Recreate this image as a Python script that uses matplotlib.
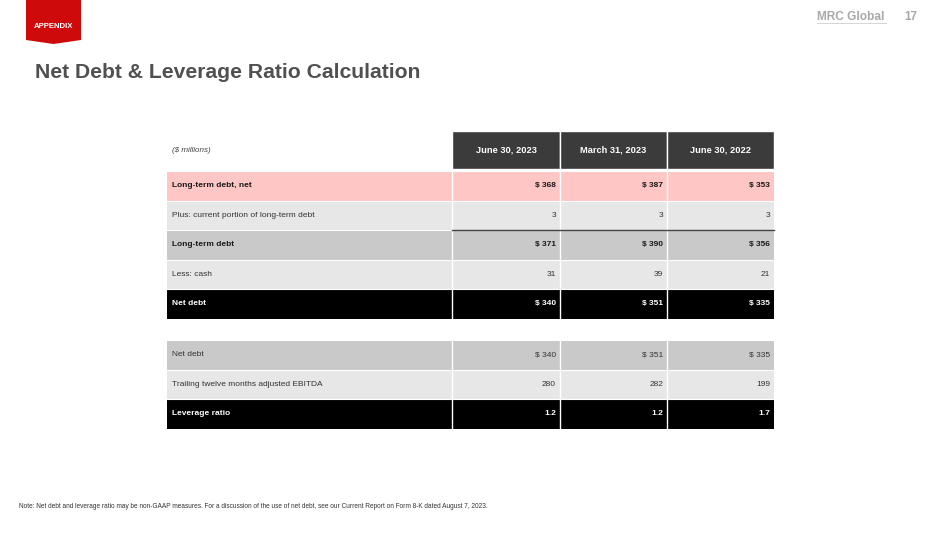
import matplotlib
matplotlib.use("Agg")
import matplotlib.pyplot as plt
from matplotlib.patches import Rectangle, Polygon
from matplotlib import font_manager

# ---------------- data ----------------
title = "Net Debt & Leverage Ratio Calculation"
tag = "APPENDIX"
unit_label = "($ millions)"
periods = ["June 30, 2023", "March 31, 2023", "June 30, 2022"]

block1_labels = ["Long-term debt, net", "Plus: current portion of long-term debt",
                 "Long-term debt", "Less: cash", "Net debt"]
block1_values = [["$ 368", "$ 387", "$ 353"],
                 ["3", "3", "3"],
                 ["$ 371", "$ 390", "$ 356"],
                 ["31", "39", "21"],
                 ["$ 340", "$ 351", "$ 335"]]
block1_styles = ["pink", "light", "mid", "light", "black"]

block2_labels = ["Net debt", "Trailing twelve months adjusted EBITDA", "Leverage ratio"]
block2_values = [["$ 340", "$ 351", "$ 335"],
                 ["280", "282", "199"],
                 ["1.2", "1.2", "1.7"]]
block2_styles = ["midplain", "light", "black"]

footnote = ("Note: Net debt and leverage ratio may be non-GAAP measures. For a discussion of the use "
            "of net debt, see our Current Report on Form 8-K dated August 7, 2023.")

# ---------------- fonts ----------------
def has_font(name):
    try:
        font_manager.findfont(name, fallback_to_default=False)
        return True
    except Exception:
        return False

NARROW = "Liberation Sans Narrow" if has_font("Liberation Sans Narrow") else "Liberation Sans"
SANS = "Liberation Sans"

# ---------------- styles ----------------
fills = {"pink": "#ffc6c6", "light": "#e7e7e7", "mid": "#c9c9c9",
         "midplain": "#c9c9c9", "black": "#000000"}
txtcol = {"pink": "#1a1a1a", "light": "#333333", "mid": "#1a1a1a",
          "midplain": "#333333", "black": "#ffffff"}
bold = {"pink": True, "light": False, "mid": True, "midplain": False, "black": True}

W, H = 950, 534
fig = plt.figure(figsize=(W / 100, H / 100), dpi=100)
ax = fig.add_axes([0, 0, 1, 1])
ax.set_xlim(0, W)
ax.set_ylim(H, 0)
ax.axis("off")

# layout
col_edges = [167, 452, 560, 667, 774]
hdr_top, hdr_bot = 131, 169
row_h = 29.5
b1_top = 171
b2_top = 340
FS = 6.0

# appendix tag
ax.add_patch(Polygon([(26, 0), (81, 0), (81, 40), (53.5, 44), (26, 40)],
                     closed=True, facecolor="#cf0a0a", edgecolor="none"))
ax.text(53.5, 27, tag, color="white", fontsize=5.6, fontweight="bold",
        family=SANS, ha="center", va="center")

# title
ax.text(35, 73, title, color="#505050", fontsize=15.2, fontweight="bold",
        family=SANS, ha="left", va="center")

# logo & page number
ax.text(851, 17, "MRC Global", color="#a8a8a8", fontsize=8.6, fontweight="bold",
        family=SANS, ha="center", va="center")
ax.plot([817, 886], [23, 23], color="#d5d5d5", lw=0.7)
ax.text(911, 17, "17", color="#a8a8a8", fontsize=8.4, fontweight="bold",
        family=SANS, ha="center", va="center")

# header
ax.text(col_edges[0] + 5, (hdr_top + hdr_bot) / 2, unit_label, color="#444444",
        fontsize=5.8, style="italic", family=NARROW, ha="left", va="center")
for j, p in enumerate(periods):
    x0, x1 = col_edges[j + 1], col_edges[j + 2]
    ax.add_patch(Rectangle((x0, hdr_top), x1 - x0, hdr_bot - hdr_top,
                           facecolor="#3b3b3b", edgecolor="white", lw=1.0))
    ax.text((x0 + x1) / 2, (hdr_top + hdr_bot) / 2, p, color="white", fontsize=6.7,
            fontweight="bold", family=NARROW, ha="center", va="center")


def draw_block(top, labels, values, styles):
    for i, (lab, vals, st) in enumerate(zip(labels, values, styles)):
        y0 = top + i * row_h
        ax.add_patch(Rectangle((col_edges[0], y0), col_edges[-1] - col_edges[0], row_h,
                               facecolor=fills[st], edgecolor="none"))
        ax.plot([col_edges[0], col_edges[-1]], [y0, y0], color="white", lw=0.8)
        yc = y0 + row_h / 2
        ax.text(col_edges[0] + 5, yc, lab, color=txtcol[st], fontsize=FS,
                fontweight="bold" if bold[st] else "normal", family=NARROW,
                ha="left", va="center")
        for j, v in enumerate(vals):
            ax.text(col_edges[j + 2] - 4, yc, v, color=txtcol[st], fontsize=FS,
                    fontweight="bold" if bold[st] else "normal", family=NARROW,
                    ha="right", va="center")
    bottom = top + len(labels) * row_h
    for x in col_edges[1:-1]:
        ax.plot([x, x], [top, bottom], color="white", lw=1.0)
    return bottom


draw_block(b1_top, block1_labels, block1_values, block1_styles)
# subtotal rule above "Long-term debt" values
y_rule = b1_top + 2 * row_h
ax.plot([col_edges[1], col_edges[-1]], [y_rule, y_rule], color="#444444", lw=1.0)

draw_block(b2_top, block2_labels, block2_values, block2_styles)

# footnote
ax.text(19, 507, footnote, color="#333333", fontsize=4.7, family=NARROW,
        ha="left", va="center")

fig.savefig("out.png", dpi=100)
